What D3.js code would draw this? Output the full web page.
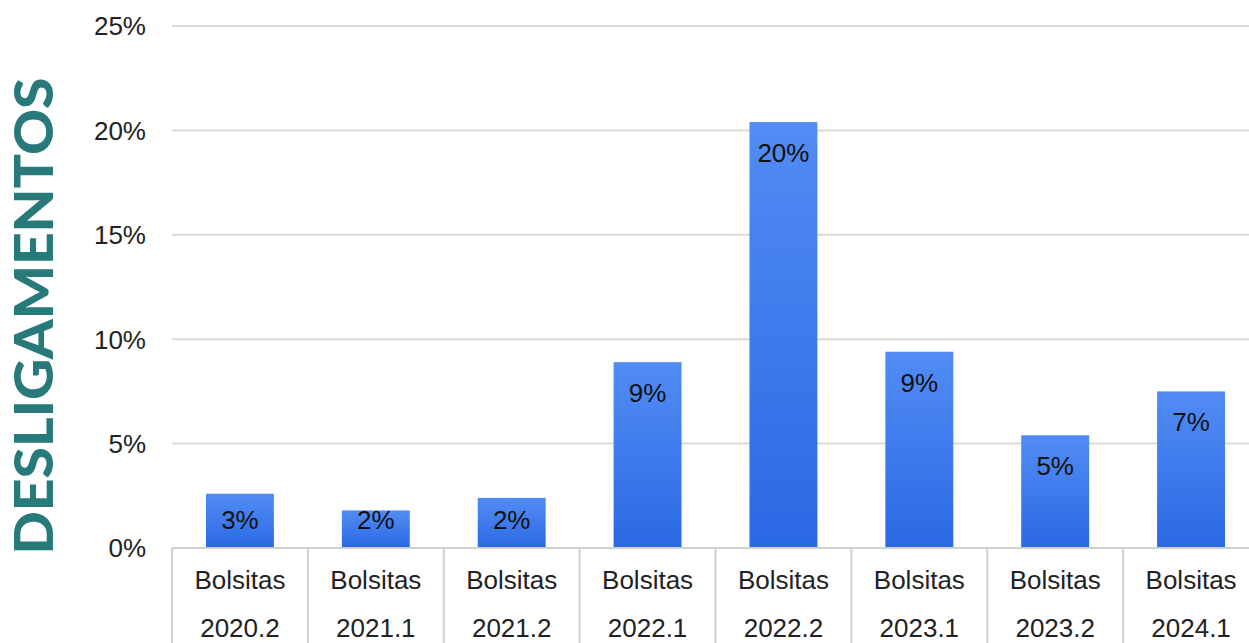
<!DOCTYPE html>
<html><head><meta charset="utf-8">
<script src="https://cdn.jsdelivr.net/npm/d3@7"></script>
<style>body{margin:0;background:#fff;}svg{display:block;}</style>
</head><body>
<svg id="c" width="1249" height="643"></svg>
<script>
const categories = ["2020.2","2021.1","2021.2","2022.1","2022.2","2023.1","2023.2","2024.1"];
const categoryPrefix = "Bolsitas";
const values = [2.6, 1.8, 2.4, 8.9, 20.4, 9.4, 5.4, 7.5];
const valueLabels = ["3%","2%","2%","9%","20%","9%","5%","7%"];
const yTicks = [0, 5, 10, 15, 20, 25];
const yTitle = "DESLIGAMENTOS";

const svg = d3.select("#c");
const font = "'Liberation Sans', Arial, sans-serif";
const fs = 26;
const x = d3.scaleBand().domain(categories).range([172, 1259]).paddingInner(0.5).paddingOuter(0.25);
const y = d3.scaleLinear().domain([0, 25]).range([548, 26]);

const defs = svg.append("defs");
const g = defs.append("linearGradient").attr("id","bg").attr("x1",0).attr("y1",0).attr("x2",0).attr("y2",1);
g.append("stop").attr("offset","0%").attr("stop-color","#528cf4");
g.append("stop").attr("offset","100%").attr("stop-color","#2a69e4");

// grid
svg.append("g").selectAll("line").data(yTicks.filter(d=>d>0)).join("line")
  .attr("x1",172).attr("x2",1249).attr("y1",d=>y(d)).attr("y2",d=>y(d))
  .attr("stroke","#d9d9d9").attr("stroke-width",2);

// y tick labels
svg.append("g").selectAll("text").data(yTicks).join("text")
  .attr("x",146).attr("y",d=>y(d)).attr("dy","0.36em").attr("text-anchor","end")
  .attr("font-family",font).attr("font-size",fs).attr("fill","#222")
  .text(d=>d+"%");

// bars
svg.append("g").selectAll("rect").data(values).join("rect")
  .attr("x",(d,i)=>x(categories[i])).attr("width",x.bandwidth())
  .attr("y",d=>y(d)).attr("height",d=>y(0)-y(d)).attr("fill","url(#bg)");

// value labels
svg.append("g").selectAll("text").data(values).join("text")
  .attr("x",(d,i)=>x(categories[i])+x.bandwidth()/2)
  .attr("y",d=>Math.min(y(d)+40, 529))
  .attr("text-anchor","middle").attr("font-family",font).attr("font-size",fs).attr("fill","#111")
  .text((d,i)=>valueLabels[i]);

// baseline and category separators
svg.append("line").attr("x1",172).attr("x2",1249).attr("y1",y(0)).attr("y2",y(0))
  .attr("stroke","#cfcfcf").attr("stroke-width",2);
const bounds = categories.map(c => x(c) - x.step()*0.25);
svg.append("g").selectAll("line").data(bounds).join("line")
  .attr("x1",d=>d).attr("x2",d=>d).attr("y1",y(0)).attr("y2",643)
  .attr("stroke","#cfcfcf").attr("stroke-width",2);

// category labels
const cl = svg.append("g").selectAll("g").data(categories).join("g")
  .attr("transform",c=>`translate(${x(c)+x.bandwidth()/2},0)`);
cl.append("text").attr("y",589).attr("text-anchor","middle").attr("font-family",font)
  .attr("font-size",fs).attr("fill","#222").text(categoryPrefix);
cl.append("text").attr("y",637).attr("text-anchor","middle").attr("font-family",font)
  .attr("font-size",fs).attr("fill","#222").text(c=>c);

// y title
svg.append("text").attr("transform","translate(53,316) rotate(-90)")
  .attr("text-anchor","middle").attr("font-family","Lato, sans-serif")
  .attr("font-weight",900).attr("font-size",53).attr("fill","#277a79")
  .attr("textLength",477).attr("lengthAdjust","spacingAndGlyphs")
  .text(yTitle);
</script>
</body></html>
